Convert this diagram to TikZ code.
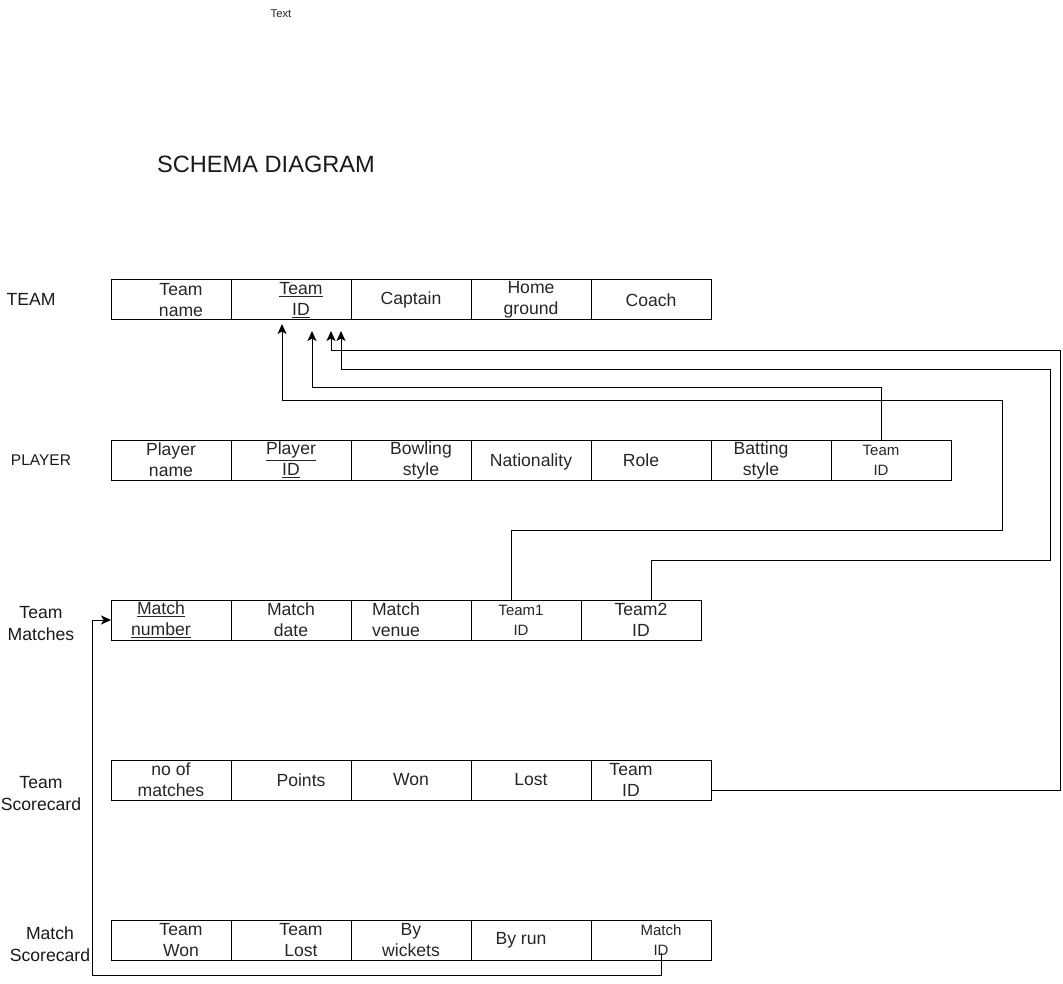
\documentclass[tikz,border=0pt]{standalone}
\usepackage{fontspec}
\setmainfont{Liberation Sans}
\usetikzlibrary{arrows.meta}
\begin{document}
\begin{tikzpicture}[x=1pt,y=-1pt,
  cell/.style={draw, line width=1pt, minimum height=40pt, inner sep=0pt, outer sep=0pt, anchor=north west},
  w120/.style={minimum width=120pt},
  w110/.style={minimum width=110pt},
  txt/.style={align=center, inner sep=0pt, text=black!85, font=\fontsize{17.6}{21}\selectfont},
  stxt/.style={align=center, inner sep=0pt, text=black!85, font=\fontsize{15}{20}\selectfont},
  lbl/.style={align=center, inner sep=0pt, text=black!90, font=\fontsize{17.6}{22}\selectfont},
  link/.style={draw, line width=1pt},
  arr/.style={link, -{Stealth[length=10pt,width=9pt,inset=2.5pt]}}
]
\useasboundingbox (0,0) rectangle (1063,984);

% title texts
\node[inner sep=0pt, font=\fontsize{11.3}{13}\selectfont, text=black!85] (ttext) at (281,14) {Text};
\node[inner sep=0pt, font=\fontsize{23.6}{28}\selectfont, text=black!90] (title) at (266,164) {SCHEMA DIAGRAM};

% row labels
\node[lbl] (lteam) at (31,299) {TEAM};
\node[lbl, font=\fontsize{15.5}{19}\selectfont] (lplayer) at (41,460) {PLAYER};
\node[lbl] (lmatches) at (41,624) {Team\\Matches};
\node[lbl] (lscore) at (41,794) {Team\\Scorecard};
\node[lbl] (lmscore) at (50,944) {Match\\Scorecard};

% TEAM table
\node[cell,w120] (t1) at (111,280) {};
\node[cell,w120] (t2) at (231,280) {};
\node[cell,w120] (t3) at (351,280) {};
\node[cell,w120] (t4) at (471,280) {};
\node[cell,w120] (t5) at (591,280) {};
\node[txt] (t1t) at (181,300) {Team\\name};
\node[txt] (t2t) at (301,300) {\underline{Team}\\\underline{ID}};
\node[txt] (t3t) at (411,300) {Captain};
\node[txt] (t4t) at (531,300) {Home\\ground};
\node[txt] (t5t) at (651,300) {Coach};

% PLAYER table
\node[cell,w120] (p1) at (111,440) {};
\node[cell,w120] (p2) at (231,440) {};
\node[cell,w120] (p3) at (351,440) {};
\node[cell,w120] (p4) at (471,440) {};
\node[cell,w120] (p5) at (591,440) {};
\node[cell,w120] (p6) at (711,440) {};
\node[cell,w120] (p7) at (831,440) {};
\node[txt] (p1t) at (171,460) {Player\\name};
\node[txt] (p2t) at (291,460) {\underline{Player}\\\underline{ID}};
\node[txt] (p3t) at (421,460) {Bowling\\style};
\node[txt] (p4t) at (531,462) {Nationality};
\node[txt] (p5t) at (641,460) {Role};
\node[txt] (p6t) at (761,460) {Batting\\style};
\node[stxt] (p7t) at (881,460) {Team\\ID};

% Team Matches table
\node[cell,w120] (m1) at (111,600) {};
\node[cell,w120] (m2) at (231,600) {};
\node[cell,w120] (m3) at (351,600) {};
\node[cell,w110] (m4) at (471,600) {};
\node[cell,w120] (m5) at (581,600) {};
\node[txt] (m1t) at (161,620) {\underline{Match}\\\underline{number}};
\node[txt] (m2t) at (291,620) {Match\\date};
\node[txt] (m3t) at (396,620) {Match\\venue};
\node[stxt] (m4t) at (521,620) {Team1\\ID};
\node[txt] (m5t) at (641,620) {Team2\\ID};

% Team Scorecard table
\node[cell,w120] (s1) at (111,760) {};
\node[cell,w120] (s2) at (231,760) {};
\node[cell,w120] (s3) at (351,760) {};
\node[cell,w120] (s4) at (471,760) {};
\node[cell,w120] (s5) at (591,760) {};
\node[txt] (s1t) at (171,780) {no of\\matches};
\node[txt] (s2t) at (301,780) {Points};
\node[txt] (s3t) at (411,780) {Won};
\node[txt] (s4t) at (531,780) {Lost};
\node[txt] (s5t) at (631,780) {Team\\ID};

% Match Scorecard table
\node[cell,w120] (c1) at (111,920) {};
\node[cell,w120] (c2) at (231,920) {};
\node[cell,w120] (c3) at (351,920) {};
\node[cell,w120] (c4) at (471,920) {};
\node[cell,w120] (c5) at (591,920) {};
\node[txt] (c1t) at (181,940) {Team\\Won};
\node[txt] (c2t) at (301,940) {Team\\Lost};
\node[txt] (c3t) at (411,940) {By\\wickets};
\node[txt] (c4t) at (521,940) {By run};
\node[stxt] (c5t) at (661,940) {Match\\ID};

% connector end points
\coordinate (a1) at (282,324);
\coordinate (a2) at (312,331);
\coordinate (a3) at (331,331);
\coordinate (a4) at (341,331);
\coordinate (ms) at (661,953);
\coordinate (se) at (711,790);

% Player.TeamID -> Team.TeamID
\draw[arr] (p7.north -| 881,0) -- (881,387) -- (312,387) -- (a2);
% Team1 ID -> Team.TeamID
\draw[arr] (m4.north -| 511,0) -- (511,530) -- (1002,530) -- (1002,400) -- (282,400) -- (a1);
% Team2 ID -> Team.TeamID
\draw[arr] (m5.north -| 651,0) -- (651,560) -- (1050,560) -- (1050,369) -- (341,369) -- (a4);
% Scorecard Team ID -> Team.TeamID
\draw[arr] (se) -- (1060,790) -- (1060,350) -- (331,350) -- (a3);
% Match ID -> Match number
\draw[arr] (ms) -- (661,975) -- (92,975) -- (92,620) -- (m1.west);
\end{tikzpicture}
\end{document}
